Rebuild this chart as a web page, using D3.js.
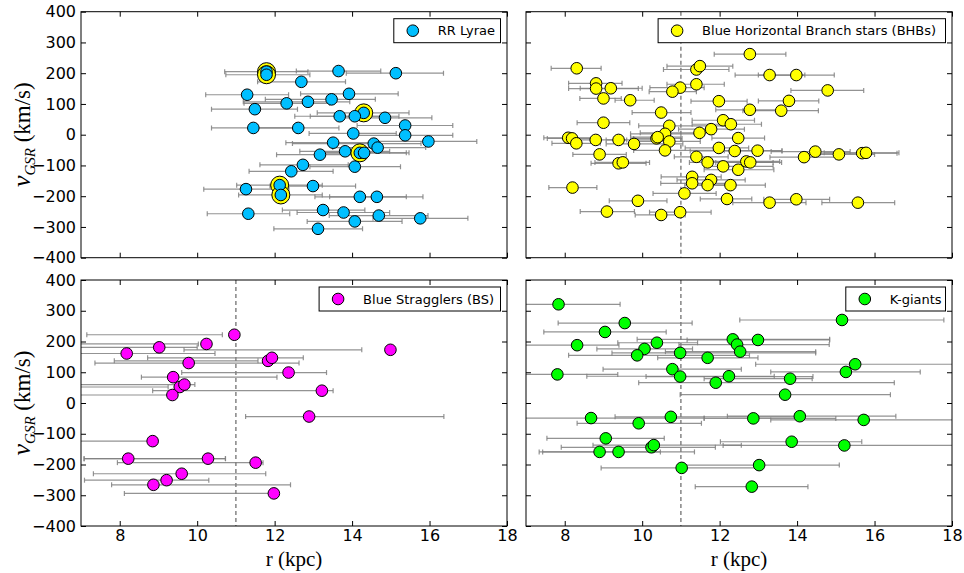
<!DOCTYPE html>
<html>
<head>
<meta charset="utf-8">
<script src="https://cdnjs.cloudflare.com/ajax/libs/d3/7.8.5/d3.min.js"></script>
<style>
body { margin: 0; background: #fff; }
svg text { font-family: "DejaVu Sans", sans-serif; }
</style>
</head>
<body>
<div id="chart"></div>
<script>
var w = 964, h = 573;

// each star: r (kpc), v_GSR (km/s), error bar low r, error bar high r
var rrLyrae = [
  [11.79,205,10.71,12.86],[11.79,195,10.74,12.91],[13.65,207,12.56,14.74],[15.13,200,13.85,16.36],
  [12.69,172,11.56,13.83],[11.29,130,10.22,12.36],[13.92,133,12.67,15.19],[13.47,115,11.76,14.60],
  [12.86,107,11.19,13.94],[12.31,102,11.21,13.42],[11.49,83,10.37,12.59],[14.30,71,13.10,15.47],
  [13.68,60,12.52,14.80],[14.07,60,12.92,15.21],[14.85,55,13.60,16.06],[11.45,22,10.37,12.59],
  [12.61,22,11.46,13.66],[15.37,30,14.13,16.60],[14.03,4,12.89,15.14],[15.37,-2,14.13,16.60],
  [13.51,-26,12.29,14.63],[14.56,-29,12.46,15.78],[14.66,-42,13.50,15.90],[15.97,-22,14.63,17.22],
  [13.82,-54,12.65,14.97],[14.20,-59,13.15,15.47],[14.31,-59,13.20,15.40],[13.17,-65,12.05,14.33],
  [12.73,-98,11.62,13.90],[14.07,-104,12.91,15.25],[12.43,-119,11.34,13.51],[12.13,-164,11.02,13.23],
  [12.99,-167,11.88,14.09],[11.26,-177,10.17,12.37],[12.16,-196,11.07,13.23],[14.20,-202,13.04,15.40],
  [14.64,-202,13.42,15.83],[11.32,-257,10.26,12.39],[13.25,-245,12.20,14.33],[13.78,-253,12.58,14.97],
  [14.69,-263,13.41,15.96],[15.76,-272,14.54,16.99],[14.07,-282,12.84,15.29],[13.12,-306,11.98,14.27]
];
// RR Lyrae with a yellow ring (also BHB-like)
var rrRinged = [[11.79,205],[11.79,195],[14.30,71],[14.20,-59],[12.13,-164],[12.16,-196]];

var bhbStars = [
  [12.78,262,11.86,13.71],[8.31,216,7.65,8.94],[11.40,212,10.55,12.24],[11.49,223,10.64,12.34],
  [13.29,194,12.40,14.20],[13.98,194,13.00,14.96],[8.81,167,8.10,9.48],[8.81,150,8.10,9.90],
  [9.19,151,8.40,10.00],[10.98,153,10.20,11.60],[10.78,140,10.18,11.40],[11.40,164,10.64,12.12],
  [14.79,144,13.84,15.72],[9.00,118,8.39,9.46],[9.69,112,9.30,10.31],[11.98,109,11.26,12.71],
  [13.79,110,13.00,14.56],[12.78,81,11.90,13.60],[13.59,78,12.60,14.55],[10.49,72,9.74,11.26],
  [9.00,39,8.32,9.68],[12.09,47,11.29,12.90],[12.29,34,11.29,13.08],[10.70,29,9.91,12.28],
  [11.78,18,10.94,12.64],[11.48,6,9.95,11.85],[10.59,3,9.70,11.50],[12.48,-11,11.80,13.16],
  [8.09,-10,7.46,8.83],[8.19,-12,7.55,8.92],[8.30,-28,7.67,8.92],[8.80,-17,8.00,9.60],
  [9.39,-17,9.07,10.38],[9.79,-30,9.07,11.05],[10.37,-12,9.78,11.03],[10.40,-8,9.70,11.00],
  [10.70,-22,9.90,11.50],[10.59,-51,9.78,12.02],[11.98,-43,11.11,12.75],[12.39,-53,11.24,13.61],
  [12.98,-52,12.12,13.61],[14.47,-55,13.33,15.37],[15.08,-64,14.10,16.00],[15.68,-60,14.60,16.58],
  [15.78,-59,14.70,16.63],[14.18,-73,13.30,15.00],[8.90,-64,8.21,9.59],[11.40,-72,10.83,12.22],
  [11.69,-90,11.22,13.38],[12.09,-103,11.61,13.38],[12.48,-114,11.60,13.40],[12.69,-87,11.80,13.55],
  [12.79,-90,11.90,13.60],[9.39,-93,8.68,10.10],[9.50,-90,8.78,10.19],[11.29,-137,10.49,12.04],
  [11.29,-158,10.48,12.36],[11.78,-147,10.90,12.66],[11.69,-164,11.10,12.20],[12.28,-164,11.31,13.18],
  [8.20,-172,7.59,8.83],[11.09,-191,10.28,11.91],[9.89,-215,9.15,10.64],[12.19,-209,11.50,12.83],
  [13.29,-221,12.34,14.23],[13.98,-210,13.14,14.84],[15.57,-221,14.64,16.52],[9.09,-250,8.40,9.80],
  [10.98,-252,10.19,11.78],[10.49,-261,9.82,11.11]
];

var blueStragglers = [
  [10.96,222,7.15,10.65],[10.24,192,6.5,10.03],[9.02,181,6.5,10.00],[8.18,161,6.5,10.46],
  [14.99,173,9.66,14.25],[11.83,137,7.86,11.57],[11.93,147,8.72,12.74],[9.78,130,7.36,12.63],
  [12.36,99,9.60,13.34],[9.38,84,8.56,12.06],[9.55,52,6.5,9.25],[9.67,60,6.5,9.94],
  [9.36,26,6.5,9.30],[13.22,40,8.85,13.51],[12.89,-44,11.25,16.37],[8.85,-124,6.5,8.85],
  [8.22,-181,7.08,10.73],[10.28,-181,7.08,10.73],[11.51,-194,7.94,11.70],[9.60,-230,7.32,11.77],
  [9.21,-251,7.09,10.30],[8.87,-266,7.79,12.41],[11.98,-294,8.12,11.98]
];

var kGiants = [
  [7.84,321,6.5,9.43],[9.55,260,7.83,11.29],[9.04,231,7.46,10.62],[8.32,188,6.5,9.40],
  [10.38,196,9.37,11.43],[10.06,176,8.83,11.30],[9.87,155,8.10,12.77],[10.98,163,9.22,14.48],
  [11.69,147,10.40,12.99],[12.34,207,9.87,14.84],[12.45,190,10.95,14.83],[12.53,167,10.60,14.48],
  [12.99,205,11.16,14.84],[15.16,270,12.52,17.79],[15.50,126,12.93,18.50],[15.26,101,13.32,17.18],
  [7.81,93,6.5,9.37],[10.78,110,8.99,12.56],[10.98,86,10.10,14.41],[12.24,87,8.57,13.41],
  [13.82,79,11.60,14.39],[11.90,66,9.91,16.51],[13.69,27,10.98,16.41],[8.68,-49,6.5,11.60],
  [10.74,-45,9.30,14.10],[9.91,-66,8.32,11.53],[12.87,-50,11.60,15.00],[14.07,-43,12.20,16.55],
  [15.72,-55,13.32,18.50],[9.06,-115,7.54,10.57],[10.24,-144,7.91,11.89],[10.30,-137,8.73,12.56],
  [8.90,-159,7.34,10.47],[9.39,-159,7.43,11.35],[13.86,-126,12.02,15.67],[15.22,-138,12.09,18.50],
  [11.02,-211,8.94,13.00],[13.02,-202,11.03,15.09],[12.83,-272,11.37,14.28]
];

var rTicks = [8, 10, 12, 14, 16, 18];
var vTicks = [-400, -300, -200, -100, 0, 100, 200, 300, 400];
var dashR = 11;

var panels = [
  {data: rrLyrae, label: "RR Lyrae", color: "#00bfff", col: 0, row: 0, dash: false, rings: rrRinged, legW: 106.7},
  {data: bhbStars, label: "Blue Horizontal Branch stars (BHBs)", color: "#ffff00", col: 1, row: 0, dash: true, legW: 287.4},
  {data: blueStragglers, label: "Blue Stragglers (BS)", color: "#ff00ff", col: 0, row: 1, dash: true, legW: 181.4},
  {data: kGiants, label: "K-giants", color: "#00ff00", col: 1, row: 1, dash: true, legW: 99.7}
];

var pw = 426, ph = 246;
var colX = [81, 526], rowY = [11.7, 280];

var svg = d3.select('#chart').append('svg')
  .attr('width', w)
  .attr('height', h);

var x = d3.scaleLinear().domain([7, 18]).range([0, pw]);
var y = d3.scaleLinear().domain([-400, 400]).range([ph, 0]);

var fmt = function(d) { return d < 0 ? "\u2212" + Math.abs(d) : "" + d; };

panels.forEach(function(p, pi) {
  var g = svg.append('g')
    .attr('transform', 'translate(' + colX[p.col] + ',' + rowY[p.row] + ')');

  g.append('clipPath').attr('id', 'clip' + pi)
    .append('rect').attr('width', pw).attr('height', ph);

  var inner = g.append('g').attr('clip-path', 'url(#clip' + pi + ')');

  if (p.dash) {
    inner.append('line')
      .attr('x1', x(dashR)).attr('x2', x(dashR))
      .attr('y1', 0).attr('y2', ph)
      .style('stroke', '#666')
      .style('stroke-width', 1.2)
      .style('stroke-dasharray', '4,3');
  }

  // error bars
  var bars = inner.selectAll('g.err').data(p.data).enter().append('g').attr('class', 'err')
    .style('stroke', '#808080')
    .style('stroke-opacity', 0.85)
    .style('stroke-width', 1.2);
  bars.append('line')
    .attr('x1', function(d) { return x(d[2]); })
    .attr('x2', function(d) { return x(d[3]); })
    .attr('y1', function(d) { return y(d[1]); })
    .attr('y2', function(d) { return y(d[1]); });
  [2, 3].forEach(function(k) {
    bars.append('line')
      .attr('x1', function(d) { return x(d[k]); })
      .attr('x2', function(d) { return x(d[k]); })
      .attr('y1', function(d) { return y(d[1]) - 2.5; })
      .attr('y2', function(d) { return y(d[1]) + 2.5; });
  });

  if (p.rings) {
    inner.selectAll('circle.ring').data(p.rings).enter().append('circle')
      .attr('class', 'ring')
      .attr('cx', function(d) { return x(d[0]); })
      .attr('cy', function(d) { return y(d[1]); })
      .attr('r', 9)
      .style('fill', '#ffff00')
      .style('stroke', '#000')
      .style('stroke-width', 1);
  }

  inner.selectAll('circle.star').data(p.data).enter().append('circle')
    .attr('class', 'star')
    .attr('cx', function(d) { return x(d[0]); })
    .attr('cy', function(d) { return y(d[1]); })
    .attr('r', 5.8)
    .style('fill', p.color)
    .style('stroke', '#000')
    .style('stroke-width', 1);

  // axes with inward ticks on all four sides
  var left = d3.axisLeft(y).tickValues(vTicks).tickSizeInner(-5).tickSizeOuter(0).tickPadding(5)
    .tickFormat(p.col === 0 ? fmt : "");
  var right = d3.axisRight(y).tickValues(vTicks).tickSizeInner(-5).tickSizeOuter(0).tickFormat("");
  var bottom = d3.axisBottom(x).tickValues(rTicks).tickSizeInner(-5).tickSizeOuter(0).tickPadding(4)
    .tickFormat(p.row === 1 ? d3.format("d") : "");
  var top = d3.axisTop(x).tickValues(rTicks).tickSizeInner(-5).tickSizeOuter(0).tickFormat("");

  g.append('g').call(left);
  g.append('g').attr('transform', 'translate(' + pw + ',0)').call(right);
  g.append('g').attr('transform', 'translate(0,' + ph + ')').call(bottom);
  g.append('g').call(top);
  g.selectAll('.domain').remove();
  g.selectAll('.tick line').style('stroke', '#000');
  g.selectAll('.tick text').style('font-size', '16px').style('fill', '#000');

  g.append('rect')
    .attr('width', pw).attr('height', ph)
    .style('fill', 'none')
    .style('stroke', '#000')
    .style('stroke-width', 1);

  // legend
  var lg = g.append('g').attr('transform', 'translate(' + (pw - 6.5 - p.legW) + ',7)');
  lg.append('rect')
    .attr('width', p.legW).attr('height', 24)
    .style('fill', '#fff')
    .style('stroke', '#000')
    .style('stroke-width', 1);
  lg.append('circle')
    .attr('cx', 19).attr('cy', 12).attr('r', 5.8)
    .style('fill', p.color)
    .style('stroke', '#000');
  lg.append('text')
    .attr('x', 44).attr('y', 16.5)
    .style('font-size', '13px')
    .text(p.label);

  // axis titles
  if (p.col === 0) {
    var yl = svg.append('text')
      .attr('transform', 'translate(30,' + (rowY[p.row] + ph / 2) + ') rotate(-90)')
      .attr('text-anchor', 'middle')
      .style('font-family', '"Liberation Serif", serif')
      .style('font-size', '23px');
    yl.append('tspan').style('font-style', 'italic').style('font-size', '26px').text('v');
    yl.append('tspan').attr('dy', 5).style('font-size', '15px').style('font-style', 'italic').text('GSR');
    yl.append('tspan').attr('dy', -5).text(' (km/s)');
  }
  if (p.row === 1) {
    svg.append('text')
      .attr('x', colX[p.col] + pw / 2)
      .attr('y', 566)
      .attr('text-anchor', 'middle')
      .style('font-family', '"Liberation Serif", serif')
      .style('font-size', '21px')
      .text('r (kpc)');
  }
});
</script>
</body>
</html>
